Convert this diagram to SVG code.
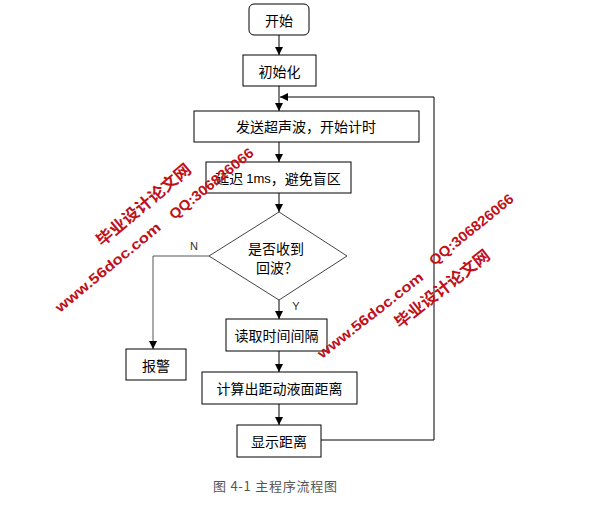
<svg xmlns="http://www.w3.org/2000/svg" width="593" height="519" viewBox="0 0 593 519">
<style>
.box{fill:#fff;stroke:#000;stroke-width:1}
.dia{fill:#fff;stroke:#444;stroke-width:1}
.t{font-family:"Noto Sans CJK SC","Liberation Sans",sans-serif;font-size:14px;fill:#000;text-anchor:middle;dominant-baseline:central}
.lbl{font-family:"Liberation Sans",sans-serif;font-size:11px;fill:#333;text-anchor:middle;dominant-baseline:central}
.cap{font-family:"Noto Sans CJK SC","Liberation Sans",sans-serif;font-size:13px;fill:#555;text-anchor:middle;dominant-baseline:central}
.c{fill:none;stroke:#000;stroke-width:1}
.g{stroke:#555}
.wm{font-family:"Liberation Sans","Noto Sans CJK SC",sans-serif;font-weight:bold;fill:#c0101a}
</style>
<defs>
<marker id="ah" markerUnits="userSpaceOnUse" markerWidth="8" markerHeight="8" refX="8" refY="4" orient="auto">
<path d="M0,0 L8,4 L0,8 z" fill="#000"/>
</marker>
</defs>
<g id="connectors">
<path class="c" d="M279,35 V55" marker-end="url(#ah)"/>
<path class="c" d="M279,86 V111" marker-end="url(#ah)"/>
<path class="c" d="M321,440 H434 V97 H280" marker-end="url(#ah)"/>
<path class="c" d="M279,142 V162" marker-end="url(#ah)"/>
<path class="c" d="M279,193 V212" marker-end="url(#ah)"/>
<path class="c" d="M279,300 V319" marker-end="url(#ah)"/>
<path class="c g" d="M209,256 H153 V349" marker-end="url(#ah)"/>
<path class="c" d="M279,351 V372" marker-end="url(#ah)"/>
<path class="c" d="M279,404 V425" marker-end="url(#ah)"/>
<text class="lbl" x="194" y="246">N</text>
<text class="lbl" x="296" y="306">Y</text>
</g>
<g id="start"><rect class="box" x="249" y="4" width="60" height="31" rx="5"/><text class="t" x="279" y="20">开始</text></g>
<g id="init"><rect class="box" x="243" y="55" width="73" height="31"/><text class="t" x="279.5" y="71">初始化</text></g>
<g id="send"><rect class="box" x="194" y="111" width="225" height="31"/><text class="t" x="306" y="126">发送超声波，开始计时</text></g>
<g id="delay"><rect class="box" x="206" y="162" width="145" height="31"/><text class="t" x="278" y="178">延迟 <tspan font-family="Liberation Sans" font-size="13">1ms</tspan>，避免盲区</text></g>
<g id="decision"><polygon class="dia" points="279,212 347,256 279,300 209,256"/><text class="t" x="276" y="248">是否收到</text><text class="t" x="277" y="267">回波？</text></g>
<g id="read"><rect class="box" x="226" y="319" width="101" height="32"/><text class="t" x="276.5" y="335">读取时间间隔</text></g>
<g id="alarm"><rect class="box" x="126" y="349" width="60" height="31"/><text class="t" x="156" y="365">报警</text></g>
<g id="calc"><rect class="box" x="202" y="372" width="155" height="32"/><text class="t" x="279.5" y="388">计算出距动液面距离</text></g>
<g id="show"><rect class="box" x="237" y="425" width="84" height="32"/><text class="t" x="279" y="441">显示距离</text></g>
<text class="cap" x="275" y="485" textLength="124" lengthAdjust="spacing">图 4-1 主程序流程图</text>
<g id="watermark">
<text class="wm" font-size="16" transform="translate(102,247) rotate(-40)" textLength="118" lengthAdjust="spacingAndGlyphs">毕业设计论文网</text>
<text class="wm" font-size="14" transform="translate(60,313) rotate(-39.5)" textLength="132" lengthAdjust="spacingAndGlyphs">www.56doc.com</text>
<text class="wm" font-size="14" transform="translate(174,220) rotate(-39)" textLength="104" lengthAdjust="spacingAndGlyphs">QQ:306826066</text>
<text class="wm" font-size="14" transform="translate(322,359) rotate(-38)" textLength="130" lengthAdjust="spacingAndGlyphs">www.56doc.com</text>
<text class="wm" font-size="16" transform="translate(400,329) rotate(-38)" textLength="116" lengthAdjust="spacingAndGlyphs">毕业设计论文网</text>
<text class="wm" font-size="14" transform="translate(434,266) rotate(-39)" textLength="104" lengthAdjust="spacingAndGlyphs">QQ:306826066</text>
</g>
</svg>
